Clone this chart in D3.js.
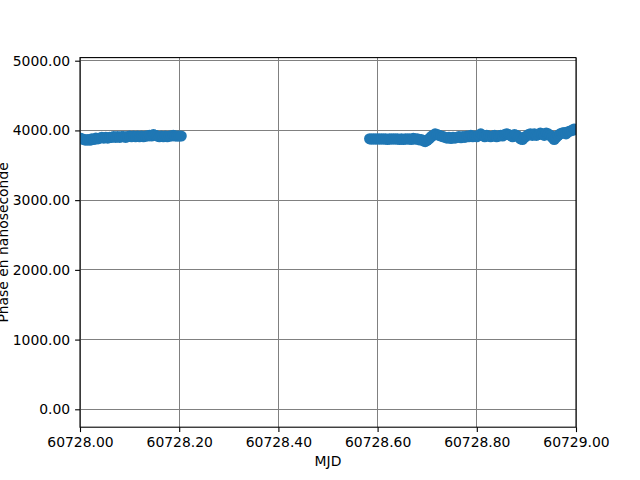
<!DOCTYPE html>
<html><head><meta charset="utf-8">
<script src="https://cdn.jsdelivr.net/npm/d3@7"></script>
<style>body{margin:0;background:#fff}svg text{font-family:"DejaVu Sans",sans-serif}</style>
</head><body>
<script>
const xTicks = [60728.0, 60728.2, 60728.4, 60728.6, 60728.8, 60729.0];
const yTicks = [0, 1000, 2000, 3000, 4000, 5000];
const mjd1 = [60728.000,60728.004,60728.008,60728.012,60728.016,60728.020,60728.024,60728.028,60728.032,60728.036,60728.040,60728.044,60728.048,60728.052,60728.056,60728.060,60728.064,60728.068,60728.072,60728.076,60728.080,60728.084,60728.088,60728.092,60728.096,60728.100,60728.104,60728.108,60728.112,60728.116,60728.120,60728.124,60728.128,60728.132,60728.136,60728.140,60728.144,60728.148,60728.152,60728.156,60728.160,60728.164,60728.168,60728.172,60728.176,60728.180,60728.184,60728.188,60728.192,60728.196,60728.200,60728.204];
const phase1 = [3890,3880,3870,3860,3870,3860,3880,3870,3890,3880,3890,3900,3890,3900,3890,3900,3900,3910,3900,3910,3900,3910,3910,3900,3910,3920,3910,3920,3910,3920,3910,3920,3910,3920,3920,3930,3920,3940,3930,3920,3910,3920,3910,3920,3910,3920,3920,3930,3920,3920,3920,3920];
const mjd2 = [60728.584,60728.588,60728.592,60728.596,60728.600,60728.604,60728.608,60728.612,60728.616,60728.620,60728.624,60728.628,60728.632,60728.636,60728.640,60728.644,60728.648,60728.652,60728.656,60728.660,60728.664,60728.668,60728.672,60728.676,60728.680,60728.684,60728.688,60728.692,60728.696,60728.700,60728.704,60728.708,60728.712,60728.716,60728.720,60728.724,60728.728,60728.732,60728.736,60728.740,60728.744,60728.748,60728.752,60728.756,60728.760,60728.764,60728.768,60728.772,60728.776,60728.780,60728.784,60728.788,60728.792,60728.796,60728.800,60728.804,60728.808,60728.812,60728.816,60728.820,60728.824,60728.828,60728.832,60728.836,60728.840,60728.844,60728.848,60728.852,60728.856,60728.860,60728.864,60728.868,60728.872,60728.876,60728.880,60728.884,60728.888,60728.892,60728.896,60728.900,60728.904,60728.908,60728.912,60728.916,60728.920,60728.924,60728.928,60728.932,60728.936,60728.940,60728.944,60728.948,60728.952,60728.956,60728.960,60728.964,60728.968,60728.972,60728.976,60728.980,60728.984,60728.988,60728.992,60728.996,60729.000];
const phase2 = [3880,3875,3880,3875,3880,3875,3880,3875,3880,3870,3880,3875,3880,3875,3880,3870,3880,3870,3880,3875,3880,3870,3885,3875,3880,3865,3870,3850,3840,3860,3880,3910,3930,3950,3940,3930,3920,3910,3900,3890,3900,3885,3900,3890,3900,3910,3895,3910,3900,3920,3910,3930,3910,3920,3910,3930,3950,3930,3910,3930,3920,3910,3920,3930,3910,3920,3930,3920,3940,3950,3940,3930,3910,3940,3930,3910,3880,3870,3900,3920,3940,3950,3930,3950,3930,3940,3960,3950,3930,3960,3950,3930,3900,3870,3900,3930,3950,3960,3970,3950,3980,3990,4000,4020,4010];

const W = 640, H = 480;
const L = 80, R = 576, T = 57.6, B = 427.2;
const svg = d3.select("body").append("svg").attr("width", W).attr("height", H);
const x = d3.scaleLinear().domain([60728, 60729]).range([L, R]);
const y = d3.scaleLinear().domain([-256.7, 5044.5]).range([B, T]);

svg.append("defs").append("clipPath").attr("id","clip")
  .append("rect").attr("x", L).attr("y", T).attr("width", R-L).attr("height", B-T);

// grid
const grid = svg.append("g").attr("stroke", "#808080").attr("stroke-width", 1).attr("shape-rendering","crispEdges");
grid.selectAll(".gx").data(xTicks).join("line")
  .attr("x1", d => x(d)).attr("x2", d => x(d)).attr("y1", T).attr("y2", B);
grid.selectAll(".gy").data(yTicks).join("line")
  .attr("x1", L).attr("x2", R).attr("y1", d => y(d)).attr("y2", d => y(d));

// points
const pts = mjd1.map((m,i)=>[m, phase1[i]]).concat(mjd2.map((m,i)=>[m, phase2[i]]));
svg.append("g").attr("clip-path","url(#clip)").selectAll("circle").data(pts).join("circle")
  .attr("cx", d => x(d[0])).attr("cy", d => y(d[1])).attr("r", 5.6).attr("fill", "#1f77b4");

// axes
const xAxis = d3.axisBottom(x).tickValues(xTicks).tickFormat(d3.format(".2f")).tickSizeOuter(0).tickSize(4.9).tickPadding(5.5);
const yAxis = d3.axisLeft(y).tickValues(yTicks).tickFormat(d3.format(".2f")).tickSizeOuter(0).tickSize(4.9).tickPadding(4.9);
const gx = svg.append("g").attr("transform", `translate(0,${B})`).call(xAxis);
const gy = svg.append("g").attr("transform", `translate(${L},0)`).call(yAxis);
[gx, gy].forEach(g => {
  g.select(".domain").remove();
  g.selectAll("text").attr("font-size", "13.9px").attr("fill", "#000").attr("font-family", "DejaVu Sans");
  g.selectAll("line").attr("stroke", "#000").attr("stroke-width", 1.1);
});

// frame
svg.append("rect").attr("x", L).attr("y", T).attr("width", R-L).attr("height", B-T)
  .attr("fill","none").attr("stroke","#000").attr("stroke-width",1.1);

svg.append("text").attr("x", (L+R)/2).attr("y", 466).attr("text-anchor","middle")
  .attr("font-size","13.9px").text("MJD");
svg.append("text").attr("transform", `translate(7.5,${(T+B)/2}) rotate(-90)`).attr("text-anchor","middle")
  .attr("font-size","13.9px").text("Phase en nanoseconde");
</script>
</body></html>
